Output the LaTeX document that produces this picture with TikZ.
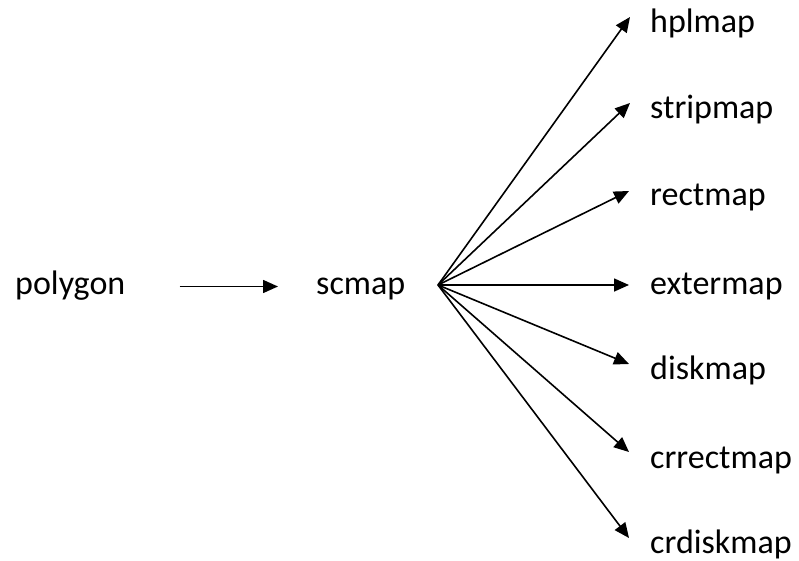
\documentclass[tikz,border=0pt]{standalone}
\usepackage{fontspec}
\setmainfont{Carlito}
\usetikzlibrary{arrows.meta}
\begin{document}
\begin{tikzpicture}[x=1pt,y=-1pt,
  lbl/.style={anchor=base west,inner sep=0pt,text height=22pt,text depth=7pt,
              font=\fontsize{34}{40}\selectfont},
  arr/.style={line width=1.6pt,-{Triangle[length=15pt,width=13pt]}}]
\useasboundingbox (0,0) rectangle (799,561);
% source and solver
\node[lbl] (polygon) at (15,294) {polygon};
\node[lbl] (scmap) at (316,294) {scmap};
\draw[arr,shorten <=54pt,shorten >=38pt] (polygon.east) -- (scmap.west);
% target maps
\node[lbl] (hplmap)    at (650,33)  {hplmap};
\node[lbl] (stripmap)  at (650,119) {stripmap};
\node[lbl] (rectmap)   at (650,206) {rectmap};
\node[lbl] (extermap)  at (650,294) {extermap};
\node[lbl] (diskmap)   at (650,379) {diskmap};
\node[lbl] (crrectmap) at (650,468) {crrectmap};
\node[lbl] (crdiskmap) at (650,553) {crdiskmap};
% fan of arrows
\coordinate (hub) at (438,285);
\coordinate (t1) at (630,17);
\coordinate (t2) at (630,103);
\coordinate (t3) at (629,191);
\coordinate (t4) at (629,285);
\coordinate (t5) at (629,364);
\coordinate (t6) at (629,452);
\coordinate (t7) at (629,538);
\foreach \t in {t1,t2,t3,t4,t5,t6,t7}
  \draw[arr] (hub) -- (\t);
\end{tikzpicture}
\end{document}
